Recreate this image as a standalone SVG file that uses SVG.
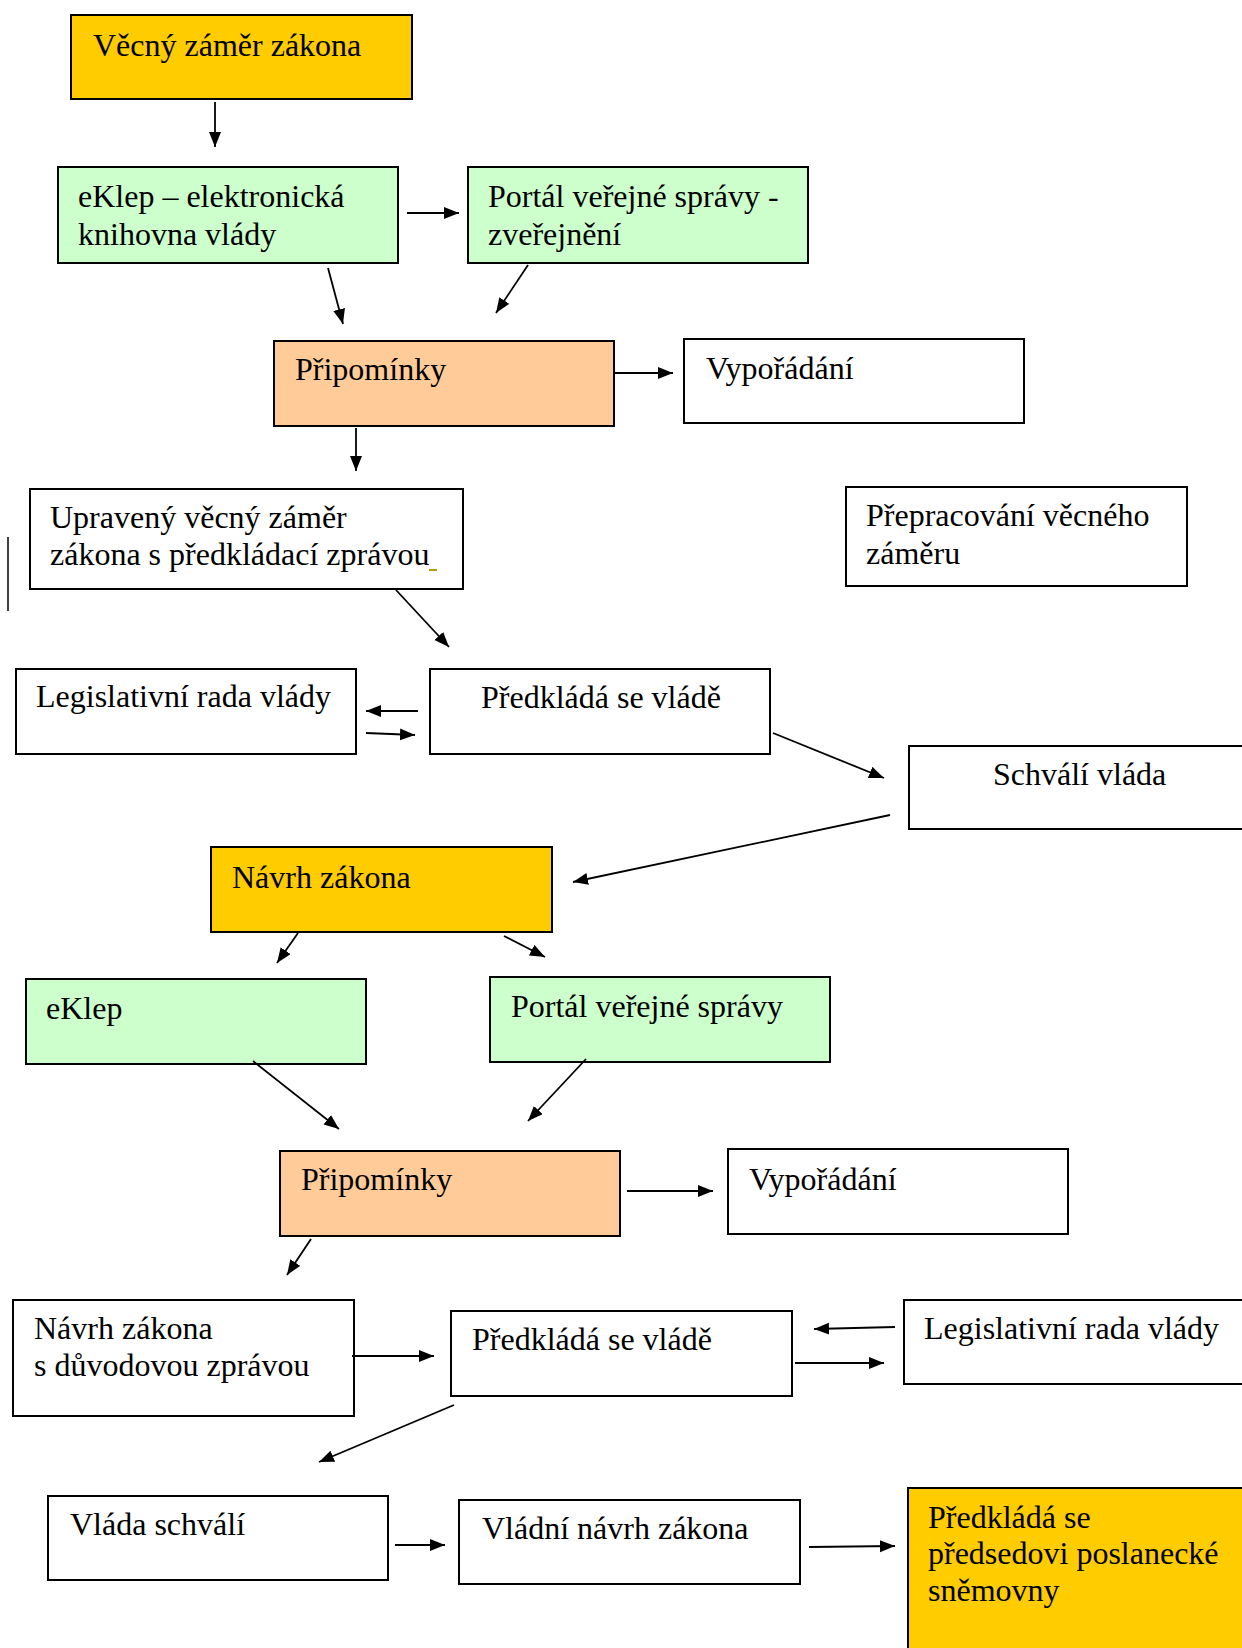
<svg xmlns="http://www.w3.org/2000/svg" width="1242" height="1648" viewBox="0 0 1242 1648">
<style>
.box{stroke:#000;stroke-width:2}
.w{fill:#fff}.y{fill:#FFCC00}.g{fill:#CCFFCC}.o{fill:#FFCC99}
text{font-family:"Liberation Serif","Times New Roman",serif;font-size:32px;fill:#000}
.c line{stroke:#000;stroke-width:1.8;marker-end:url(#ah)}
</style>
<defs>
<marker id="ah" markerUnits="userSpaceOnUse" markerWidth="16" markerHeight="14" refX="15" refY="6" orient="auto">
<path d="M0,0 L15,6 L0,12 Z" fill="#000"/>
</marker>
</defs>
<rect width="1242" height="1648" fill="#fff"/>
<g id="n1"><rect class="box y" x="71" y="15" width="341" height="84"/><text x="93" y="56">Věcný záměr zákona</text></g>
<g id="n2"><rect class="box g" x="58" y="167" width="340" height="96"/><text x="78" y="207">eKlep – elektronická</text><text x="78" y="245">knihovna vlády</text></g>
<g id="n3"><rect class="box g" x="468" y="167" width="340" height="96"/><text x="488" y="207">Portál veřejné správy -</text><text x="488" y="245">zveřejnění</text></g>
<g id="n4"><rect class="box o" x="274" y="341" width="340" height="85"/><text x="295" y="380">Připomínky</text></g>
<g id="n5"><rect class="box w" x="684" y="339" width="340" height="84"/><text x="706" y="379">Vypořádání</text></g>
<g id="n6"><rect class="box w" x="30" y="489" width="433" height="100"/><text x="50" y="528">Upravený věcný záměr</text><text x="50" y="565">zákona s předkládací zprávou</text><rect x="429" y="569" width="8" height="2" fill="#B3A000"/></g>
<g id="n7"><rect class="box w" x="846" y="487" width="341" height="99"/><text x="866" y="526">Přepracování věcného</text><text x="866" y="564">záměru</text></g>
<g id="n8"><rect class="box w" x="16" y="669" width="340" height="85"/><text x="36" y="707">Legislativní rada vlády</text></g>
<g id="n9"><rect class="box w" x="430" y="669" width="340" height="85"/><text x="481" y="708">Předkládá se vládě</text></g>
<g id="n10"><rect class="box w" x="909" y="746" width="345" height="83"/><text x="993" y="785">Schválí vláda</text></g>
<g id="n11"><rect class="box y" x="211" y="847" width="341" height="85"/><text x="232" y="888">Návrh zákona</text></g>
<g id="n12"><rect class="box g" x="26" y="979" width="340" height="85"/><text x="46" y="1019">eKlep</text></g>
<g id="n13"><rect class="box g" x="490" y="977" width="340" height="85"/><text x="511" y="1017">Portál veřejné správy</text></g>
<g id="n14"><rect class="box o" x="280" y="1151" width="340" height="85"/><text x="301" y="1190">Připomínky</text></g>
<g id="n15"><rect class="box w" x="728" y="1149" width="340" height="85"/><text x="749" y="1190">Vypořádání</text></g>
<g id="n16"><rect class="box w" x="13" y="1300" width="341" height="116"/><text x="34" y="1339">Návrh zákona</text><text x="34" y="1376">s důvodovou zprávou</text></g>
<g id="n17"><rect class="box w" x="451" y="1311" width="341" height="85"/><text x="472" y="1350">Předkládá se vládě</text></g>
<g id="n18"><rect class="box w" x="904" y="1300" width="345" height="84"/><text x="924" y="1339">Legislativní rada vlády</text></g>
<g id="n19"><rect class="box w" x="48" y="1496" width="340" height="84"/><text x="70" y="1535">Vláda schválí</text></g>
<g id="n20"><rect class="box w" x="459" y="1500" width="341" height="84"/><text x="482" y="1539">Vládní návrh zákona</text></g>
<g id="n21"><rect class="box y" x="908" y="1488" width="345" height="200"/><text x="928" y="1528">Předkládá se</text><text x="928" y="1564">předsedovi poslanecké</text><text x="928" y="1601">sněmovny</text></g>
<line x1="8" y1="537" x2="8" y2="611" stroke="#000" stroke-width="1.5"/>
<g id="connectors" class="c">
<line x1="215" y1="102" x2="215" y2="147"/>
<line x1="407" y1="213" x2="459" y2="213"/>
<line x1="328" y1="268" x2="343" y2="324"/>
<line x1="528" y1="265" x2="496" y2="313"/>
<line x1="615" y1="373" x2="673" y2="373"/>
<line x1="356" y1="428" x2="356" y2="471"/>
<line x1="396" y1="590" x2="449" y2="647"/>
<line x1="418" y1="711" x2="366" y2="711"/>
<line x1="366" y1="733" x2="415" y2="735"/>
<line x1="773" y1="733" x2="884" y2="778"/>
<line x1="890" y1="815" x2="573" y2="882"/>
<line x1="298" y1="933" x2="277" y2="963"/>
<line x1="504" y1="936" x2="545" y2="957"/>
<line x1="253" y1="1061" x2="339" y2="1129"/>
<line x1="586" y1="1059" x2="528" y2="1121"/>
<line x1="627" y1="1191" x2="713" y2="1191"/>
<line x1="311" y1="1239" x2="287" y2="1275"/>
<line x1="352" y1="1356" x2="434" y2="1356"/>
<line x1="895" y1="1327" x2="814" y2="1329"/>
<line x1="795" y1="1363" x2="884" y2="1363"/>
<line x1="454" y1="1405" x2="319" y2="1462"/>
<line x1="395" y1="1545" x2="445" y2="1545"/>
<line x1="809" y1="1547" x2="895" y2="1546"/>
</g>
</svg>
